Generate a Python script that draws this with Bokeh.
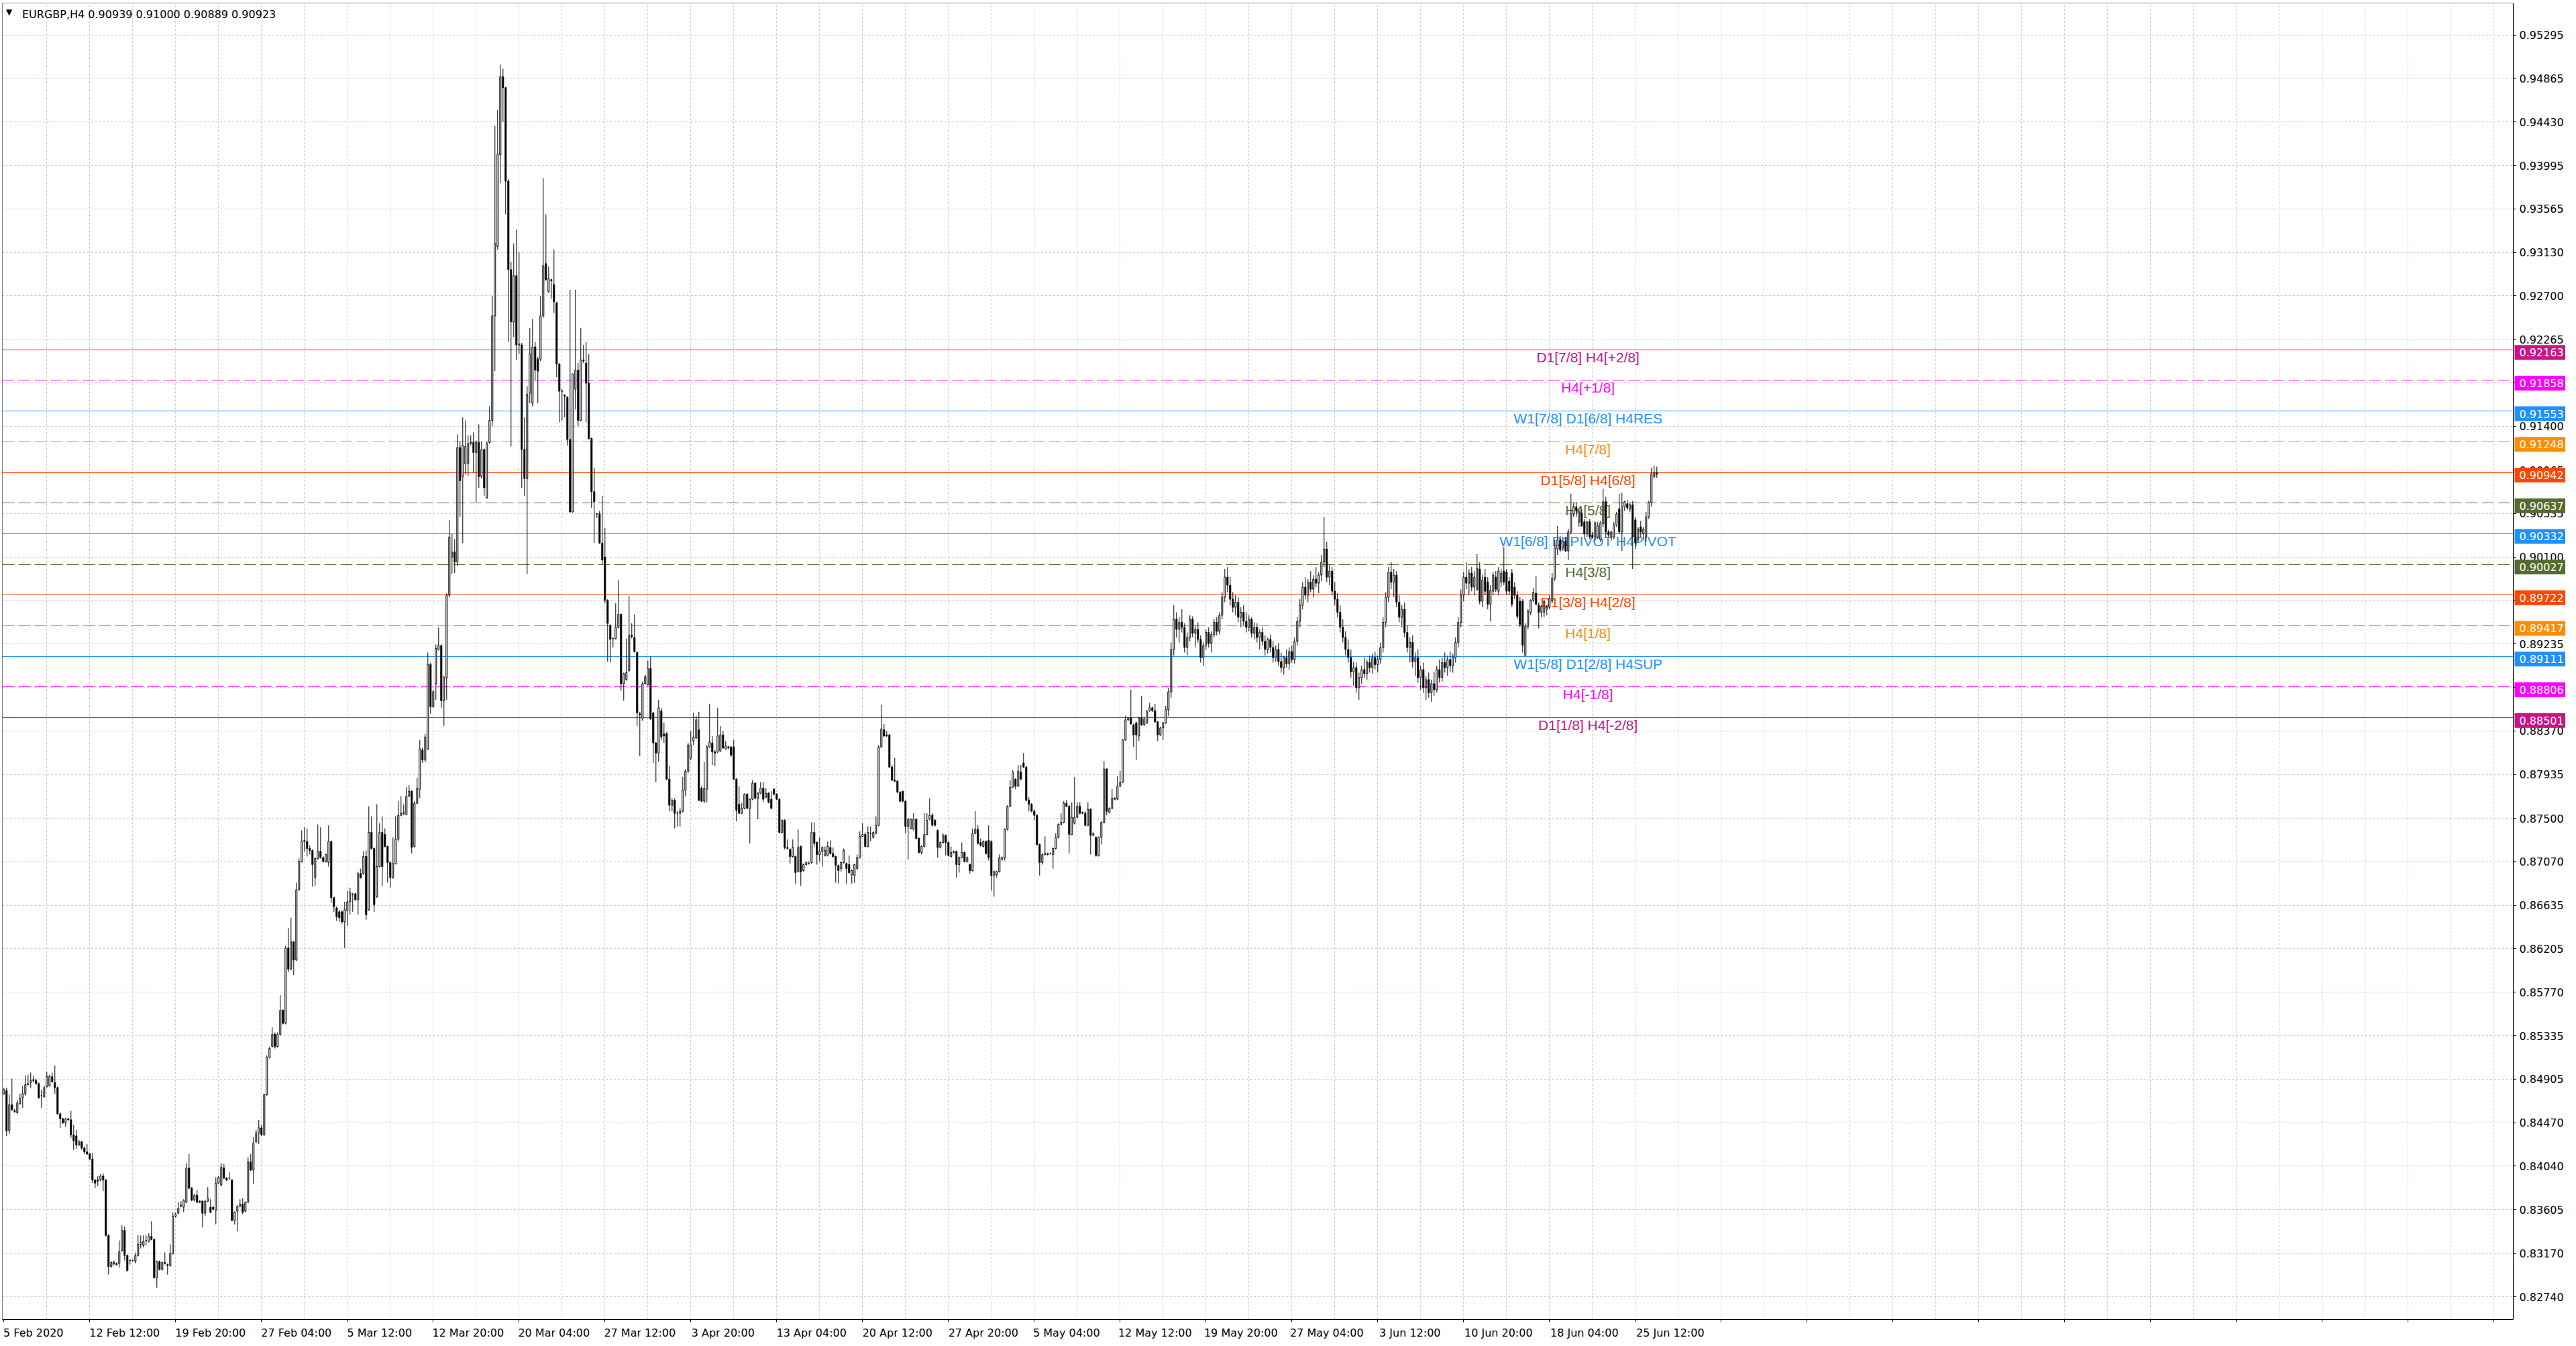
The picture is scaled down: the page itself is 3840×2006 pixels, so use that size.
from bokeh.plotting import figure
from bokeh.models import ColumnDataSource, FixedTicker, Range1d, Label, PrintfTickFormatter, LinearAxis
from bokeh.embed import file_html
from bokeh.resources import INLINE
from bokeh.core.properties import value

symbol = "EURGBP,H4"

opens = [
.8476,.8479,.8439,.8465,.8459,.8457,.8466,.8472,.8476,.8485,.8487,.8489,.8489,.8486,.8474,.8473,.8483,.8484,.8493,.8487,
.8482,.8456,.8451,.8447,.8451,.8450,.8435,.8434,.8425,.8428,.8422,.8418,.8416,.8411,.8390,.8390,.8390,.8394,.8390,.8335,
.8304,.8308,.8307,.8307,.8320,.8340,.8315,.8310,.8310,.8309,.8315,.8326,.8325,.8330,.8329,.8334,.8331,.8293,.8309,.8301,
.8308,.8306,.8305,.8317,.8354,.8357,.8364,.8363,.8368,.8402,.8382,.8370,.8375,.8368,.8369,.8357,.8369,.8363,.8363,.8360,
.8387,.8385,.8402,.8392,.8392,.8390,.8350,.8359,.8364,.8366,.8359,.8368,.8408,.8400,.8428,.8437,.8442,.8435,.8475,.8512,
.8523,.8535,.8523,.8535,.8559,.8546,.8621,.8600,.8627,.8609,.8679,.8707,.8727,.8727,.8720,.8718,.8691,.8710,.8717,.8711,
.8707,.8706,.8727,.8671,.8661,.8657,.8657,.8647,.8658,.8667,.8674,.8675,.8669,.8695,.8695,.8712,.8659,.8736,.8720,.8672,
.8702,.8736,.8734,.8722,.8706,.8691,.8705,.8729,.8753,.8755,.8754,.8772,.8777,.8722,.8765,.8779,.8818,.8808,.8819,.8903,
.8861,.8884,.8918,.8922,.8867,.8890,.8972,.9010,.9015,.9005,.9119,.9090,.9103,.9103,.9123,.9124,.9114,.9124,.9090,.9117,
.9069,.9124,.9146,.9250,.9319,.9410,.9488,.9477,.9384,.9296,.9244,.9290,.9221,.9221,.9117,.9088,.9173,.9163,.9219,.9207,
.9207,.9250,.9302,.9274,.9286,.9281,.9263,.9202,.9175,.9171,.9169,.9127,.9055,.9177,.9196,.9146,.9206,.9203,.9183,.9128,
.9075,.9053,.9053,.9024,.9010,.8967,.8942,.8929,.8929,.8940,.8953,.8884,.8888,.8897,.8932,.8930,.8915,.8854,.8849,.8884,
.8883,.8899,.8855,.8825,.8815,.8857,.8834,.8834,.8789,.8763,.8768,.8755,.8755,.8757,.8778,.8797,.8810,.8827,.8830,.8838,
.8780,.8767,.8779,.8821,.8825,.8816,.8816,.8817,.8833,.8819,.8821,.8821,.8821,.8789,.8764,.8755,.8760,.8774,.8760,.8769,
.8785,.8770,.8775,.8780,.8771,.8775,.8769,.8779,.8774,.8769,.8736,.8748,.8721,.8719,.8712,.8712,.8697,.8722,.8698,.8704,
.8705,.8706,.8736,.8726,.8714,.8717,.8713,.8713,.8721,.8715,.8712,.8703,.8700,.8706,.8705,.8704,.8694,.8693,.8700,.8711,
.8732,.8734,.8722,.8735,.8731,.8735,.8743,.8821,.8838,.8833,.8833,.8801,.8788,.8787,.8776,.8777,.8767,.8742,.8740,.8739,
.8749,.8730,.8716,.8722,.8734,.8749,.8753,.8748,.8738,.8721,.8726,.8733,.8726,.8712,.8716,.8717,.8704,.8711,.8716,.8707,
.8704,.8698,.8735,.8739,.8726,.8722,.8727,.8728,.8727,.8693,.8694,.8697,.8709,.8711,.8739,.8762,.8781,.8789,.8782,.8796,
.8805,.8801,.8768,.8764,.8757,.8753,.8724,.8706,.8714,.8714,.8715,.8714,.8720,.8731,.8744,.8746,.8765,.8762,.8734,.8745,
.8751,.8762,.8755,.8755,.8743,.8759,.8733,.8731,.8713,.8731,.8746,.8799,.8756,.8760,.8769,.8769,.8782,.8786,.8828,.8848,
.8850,.8843,.8845,.8832,.8850,.8843,.8845,.8857,.8860,.8857,.8846,.8833,.8840,.8845,
.8858,.8876,.8918,.8948,.8938,.8945,.8940,.8920,.8930,.8948,.8934,.8938,.8928,.8910,.8922,.8935,.8924,.8933,.8945,.8936,
.8952,.8970,.8990,.8982,.8968,.8960,.8965,.8950,.8955,.8946,.8940,.8948,.8934,.8940,.8930,.8935,.8926,.8918,.8928,.8920,
.8910,.8918,.8906,.8900,.8910,.8904,.8916,.8908,.8926,.8946,.8962,.8980,.8972,.8985,.8978,.8988,.8984,.8992,.9005,.9018,
.8990,.8996,.8976,.8968,.8955,.8940,.8930,.8918,.8910,.8896,.8900,.8880,.8890,.8898,.8894,.8905,.8900,.8910,.8903,.8908,
.8920,.8945,.8970,.8995,.8985,.8992,.8965,.8950,.8958,.8935,.8920,.8925,.8906,.8910,.8890,.8898,.8880,.8888,.8875,.8884,
.8878,.8898,.8890,.8905,.8900,.8908,.8902,.8910,.8925,.8945,.8972,.8990,.8984,.8994,.8980,.8978,.8998,.8966,.8990,.8985,
.8963,.8976,.8990,.8976,.8985,.8996,.8995,.8986,.8994,.8980,.8972,.8966,.8966,.8912,.8941,.8955,.8967,.8974,.8962,.8955,
.8955,.8958,.8960,.8966,.8989,.9018,.9027,.9019,.9026,.9016,.9035,.9053,.9060,.9045,.9053,.9045,.9033,.9045,.9032,.9030,
.9030,.9027,.9043,.9065,.9035,.9030,.9030,.9042,.9058,.9035,.9060,.9063,.9058,.9062,.9047,.9027,.9040,.9033,.9030,.9050,
.9064,.9090,.90939]

highs = [
.8482,.8482,.8475,.8491,.8461,.8470,.8476,.8484,.8494,.8495,.8497,.8494,.8491,.8487,.8480,.8484,.8498,.8495,.8497,.8504,
.8483,.8457,.8452,.8452,.8452,.8459,.8445,.8440,.8430,.8429,.8423,.8426,.8417,.8417,.8391,.8394,.8396,.8397,.8391,.8336,
.8309,.8310,.8308,.8330,.8345,.8344,.8316,.8311,.8311,.8318,.8335,.8335,.8335,.8335,.8337,.8349,.8332,.8310,.8310,.8309,
.8318,.8307,.8326,.8358,.8358,.8368,.8369,.8371,.8407,.8416,.8383,.8376,.8380,.8370,.8370,.8370,.8383,.8371,.8364,.8393,
.8394,.8407,.8406,.8393,.8398,.8391,.8359,.8365,.8371,.8372,.8369,.8413,.8416,.8433,.8440,.8450,.8445,.8476,.8514,.8523,
.8542,.8537,.8537,.8574,.8560,.8623,.8641,.8651,.8628,.8686,.8710,.8738,.8741,.8740,.8723,.8719,.8711,.8744,.8741,.8712,
.8715,.8743,.8728,.8672,.8662,.8659,.8658,.8667,.8678,.8681,.8676,.8676,.8697,.8700,.8717,.8718,.8762,.8752,.8721,.8764,
.8745,.8752,.8740,.8723,.8707,.8731,.8752,.8767,.8772,.8764,.8781,.8783,.8778,.8767,.8790,.8828,.8820,.8834,.8915,.8905,
.8878,.8923,.8940,.8923,.8892,.8974,.9047,.9033,.9028,.9132,.9125,.9149,.9146,.9131,.9131,.9134,.9126,.9142,.9125,.9118,
.9125,.9160,.9270,.9439,.9455,.9500,.9496,.9478,.9386,.9304,.9322,.9336,.9313,.9223,.9149,.9180,.9238,.9247,.9224,.9209,
.9270,.9387,.9351,.9299,.9287,.9316,.9264,.9203,.9177,.9172,.9170,.9276,.9193,.9276,.9203,.9238,.9221,.9224,.9212,.9129,
.9099,.9054,.9056,.9071,.9039,.8968,.8943,.8930,.8964,.8987,.8954,.8895,.8929,.8971,.8944,.8953,.8916,.8856,.8886,.8893,
.8907,.8911,.8856,.8826,.8868,.8860,.8845,.8836,.8802,.8770,.8770,.8757,.8760,.8791,.8799,.8825,.8837,.8855,.8852,.8856,
.8782,.8806,.8823,.8864,.8832,.8818,.8860,.8842,.8837,.8827,.8822,.8822,.8828,.8790,.8782,.8765,.8775,.8775,.8770,.8788,
.8786,.8776,.8786,.8786,.8780,.8776,.8777,.8780,.8775,.8770,.8749,.8749,.8729,.8720,.8729,.8713,.8739,.8723,.8705,.8707,
.8707,.8746,.8746,.8727,.8731,.8722,.8722,.8727,.8728,.8721,.8713,.8704,.8707,.8720,.8706,.8713,.8699,.8705,.8714,.8737,
.8745,.8736,.8742,.8742,.8737,.8752,.8823,.8863,.8844,.8837,.8834,.8803,.8810,.8788,.8777,.8777,.8768,.8750,.8750,.8755,
.8750,.8731,.8723,.8755,.8755,.8770,.8755,.8749,.8739,.8727,.8735,.8734,.8727,.8722,.8718,.8718,.8712,.8726,.8717,.8712,
.8705,.8740,.8757,.8743,.8730,.8728,.8728,.8743,.8728,.8698,.8698,.8714,.8712,.8740,.8763,.8788,.8798,.8790,.8803,.8803,
.8815,.8802,.8771,.8765,.8759,.8754,.8725,.8715,.8732,.8716,.8716,.8721,.8735,.8745,.8755,.8767,.8768,.8763,.8766,.8791,
.8766,.8766,.8757,.8757,.8766,.8760,.8736,.8732,.8732,.8747,.8807,.8800,.8761,.8779,.8771,.8792,.8797,.8829,.8852,.8851,
.8878,.8844,.8846,.8851,.8872,.8850,.8858,.8865,.8861,.8864,.8847,.8841,.8846,.8862,
.8880,.8925,.8962,.8955,.8950,.8958,.8944,.8935,.8952,.8951,.8942,.8945,.8932,.8925,.8938,.8940,.8936,.8948,.8950,.8955,
.8975,.8998,.9000,.8990,.8975,.8972,.8970,.8960,.8962,.8955,.8952,.8950,.8945,.8944,.8938,.8940,.8932,.8930,.8933,.8926,
.8922,.8924,.8915,.8912,.8918,.8920,.8922,.8930,.8950,.8968,.8985,.8990,.8988,.8996,.8992,.9000,.8995,.9012,.9050,.9025,
.9002,.9000,.8985,.8974,.8962,.8948,.8936,.8928,.8918,.8906,.8905,.8895,.8902,.8910,.8908,.8912,.8914,.8916,.8912,.8925,
.8950,.8975,.9000,.9005,.8998,.8996,.8972,.8962,.8965,.8942,.8930,.8932,.8915,.8918,.8902,.8905,.8892,.8895,.8888,.8896,
.8902,.8908,.8910,.8915,.8912,.8916,.8914,.8930,.8950,.8978,.8995,.9005,.8998,.9000,.8996,.9013,.9005,.8992,.8998,.8990,
.8982,.8995,.8996,.9000,.8998,.9020,.8998,.8990,.8998,.8985,.8976,.8970,.8968,.8944,.8958,.8968,.8979,.8991,.8965,.8962,
.8967,.8962,.8972,.8994,.9027,.9041,.9031,.9030,.9030,.9038,.9073,.9064,.9065,.9058,.9058,.9048,.9046,.9048,.9035,.9046,
.9045,.9046,.9078,.9070,.9037,.9036,.9045,.9055,.9073,.9074,.9066,.9067,.9064,.9066,.9050,.9040,.9046,.9040,.9055,.9066,
.9099,.9101,.91000]

lows = [
.8475,.8434,.8436,.8459,.8457,.8456,.8465,.8462,.8474,.8484,.8482,.8487,.8485,.8471,.8462,.8472,.8482,.8483,.8487,.8476,
.8455,.8442,.8446,.8443,.8449,.8432,.8420,.8421,.8424,.8420,.8416,.8415,.8410,.8387,.8382,.8384,.8389,.8379,.8334,.8296,
.8303,.8305,.8305,.8303,.8319,.8310,.8299,.8306,.8309,.8307,.8314,.8322,.8323,.8325,.8328,.8330,.8292,.8283,.8300,.8300,
.8306,.8296,.8304,.8316,.8353,.8356,.8363,.8358,.8367,.8381,.8369,.8369,.8367,.8367,.8343,.8354,.8368,.8357,.8360,.8346,
.8386,.8384,.8391,.8389,.8390,.8349,.8346,.8339,.8363,.8356,.8358,.8367,.8399,.8386,.8427,.8426,.8434,.8434,.8474,.8511,
.8522,.8521,.8522,.8534,.8545,.8545,.8597,.8599,.8594,.8608,.8678,.8706,.8717,.8712,.8714,.8682,.8683,.8709,.8710,.8706,
.8706,.8702,.8666,.8657,.8648,.8647,.8645,.8621,.8643,.8654,.8657,.8668,.8654,.8690,.8694,.8649,.8658,.8719,.8657,.8671,
.8701,.8683,.8721,.8686,.8681,.8690,.8704,.8727,.8752,.8753,.8753,.8771,.8715,.8721,.8764,.8770,.8805,.8806,.8818,.8854,
.8860,.8868,.8917,.8860,.8842,.8868,.8970,.8993,.8994,.9001,.9050,.9024,.9092,.9091,.9121,.9094,.9065,.9079,.9088,.9071,
.9068,.9123,.9140,.9195,.9316,.9382,.9443,.9351,.9224,.9120,.9229,.9206,.9212,.9079,.9071,.8993,.9163,.9160,.9186,.9163,
.9205,.9248,.9285,.9273,.9267,.9253,.9189,.9144,.9146,.9149,.9121,.9054,.9054,.9157,.9140,.9145,.9203,.9144,.9127,.9059,
.9024,.9049,.9023,.9003,.8964,.8906,.8905,.8920,.8928,.8939,.8877,.8867,.8887,.8896,.8929,.8915,.8842,.8812,.8847,.8883,
.8882,.8848,.8805,.8786,.8806,.8828,.8825,.8788,.8757,.8757,.8740,.8742,.8742,.8756,.8772,.8795,.8808,.8823,.8829,.8767,
.8766,.8765,.8766,.8820,.8803,.8802,.8815,.8816,.8819,.8818,.8819,.8811,.8788,.8747,.8754,.8754,.8759,.8759,.8725,.8768,
.8769,.8749,.8774,.8766,.8770,.8765,.8759,.8773,.8768,.8735,.8735,.8719,.8719,.8705,.8711,.8685,.8696,.8683,.8697,.8703,
.8704,.8705,.8722,.8704,.8707,.8702,.8712,.8712,.8714,.8711,.8686,.8685,.8697,.8705,.8685,.8695,.8685,.8686,.8699,.8710,
.8731,.8721,.8721,.8727,.8730,.8734,.8742,.8820,.8831,.8831,.8800,.8787,.8786,.8775,.8766,.8766,.8735,.8709,.8739,.8738,
.8729,.8715,.8714,.8721,.8733,.8748,.8742,.8742,.8711,.8720,.8725,.8713,.8712,.8711,.8715,.8691,.8696,.8710,.8706,.8706,
.8695,.8697,.8734,.8724,.8722,.8721,.8714,.8708,.8678,.8672,.8691,.8696,.8708,.8708,.8738,.8761,.8780,.8779,.8781,.8788,
.8800,.8767,.8757,.8756,.8748,.8723,.8693,.8704,.8713,.8713,.8714,.8700,.8719,.8730,.8743,.8745,.8761,.8715,.8733,.8744,
.8750,.8754,.8754,.8742,.8742,.8714,.8732,.8712,.8712,.8724,.8745,.8753,.8755,.8759,.8768,.8768,.8781,.8785,.8827,.8847,
.8843,.8821,.8808,.8827,.8842,.8842,.8844,.8856,.8856,.8845,.8827,.8832,.8828,.8844,
.8852,.8870,.8912,.8930,.8925,.8935,.8915,.8912,.8926,.8930,.8920,.8925,.8905,.8902,.8918,.8920,.8915,.8930,.8932,.8933,
.8948,.8965,.8975,.8962,.8955,.8952,.8945,.8940,.8942,.8935,.8936,.8930,.8928,.8925,.8918,.8922,.8912,.8914,.8915,.8905,
.8906,.8902,.8895,.8893,.8900,.8898,.8905,.8904,.8922,.8940,.8958,.8968,.8965,.8975,.8970,.8980,.8974,.8986,.9000,.8985,
.8982,.8972,.8962,.8950,.8935,.8925,.8912,.8905,.8890,.8882,.8875,.8868,.8884,.8890,.8888,.8895,.8894,.8898,.8895,.8904,
.8915,.8940,.8965,.8978,.8970,.8960,.8945,.8940,.8930,.8915,.8905,.8900,.8892,.8885,.8878,.8875,.8868,.8870,.8866,.8872,
.8875,.8885,.8886,.8895,.8892,.8896,.8895,.8905,.8920,.8940,.8966,.8978,.8972,.8976,.8972,.8976,.8963,.8960,.8972,.8958,
.8946,.8972,.8975,.8972,.8980,.8982,.8972,.8972,.8960,.8968,.8948,.8940,.8915,.8912,.8938,.8952,.8965,.8962,.8939,.8950,
.8950,.8952,.8958,.8964,.8986,.9012,.9015,.9016,.9015,.9007,.9033,.9050,.9050,.9040,.9040,.9030,.9030,.9028,.9028,.9026,
.9028,.9025,.9040,.9030,.9030,.9026,.9028,.9040,.9033,.9016,.9056,.9057,.9055,.8998,.9018,.9024,.9030,.9027,.9025,.9048,
.9060,.9088,.90889]

closes = [
.8480,.8439,.8465,.8460,.8458,.8467,.8471,.8476,.8485,.8486,.8489,.8490,.8486,.8472,.8474,.8482,.8493,.8493,.8488,.8482,
.8456,.8451,.8447,.8451,.8450,.8435,.8429,.8425,.8428,.8422,.8418,.8416,.8411,.8390,.8387,.8389,.8394,.8390,.8335,.8304,
.8308,.8307,.8306,.8319,.8340,.8315,.8300,.8310,.8310,.8315,.8326,.8328,.8329,.8330,.8334,.8331,.8293,.8309,.8301,.8308,
.8307,.8305,.8317,.8354,.8356,.8362,.8365,.8370,.8402,.8382,.8370,.8375,.8368,.8369,.8357,.8369,.8372,.8358,.8361,.8387,
.8393,.8403,.8392,.8390,.8392,.8350,.8358,.8364,.8366,.8358,.8368,.8408,.8400,.8427,.8437,.8442,.8435,.8475,.8512,.8521,
.8535,.8523,.8535,.8559,.8546,.8621,.8600,.8627,.8609,.8679,.8707,.8727,.8728,.8720,.8718,.8704,.8710,.8717,.8711,.8707,
.8714,.8727,.8671,.8662,.8652,.8651,.8647,.8659,.8667,.8676,.8674,.8669,.8695,.8691,.8712,.8654,.8736,.8720,.8664,.8702,
.8736,.8702,.8722,.8706,.8691,.8705,.8729,.8753,.8755,.8756,.8772,.8777,.8721,.8765,.8780,.8819,.8808,.8831,.8903,.8861,
.8876,.8919,.8922,.8867,.8890,.8972,.9030,.9015,.9005,.9119,.9086,.9121,.9120,.9123,.9124,.9114,.9124,.9090,.9117,.9079,
.9123,.9146,.9250,.9322,.9411,.9488,.9477,.9384,.9296,.9244,.9290,.9221,.9222,.9117,.9088,.9172,.9212,.9219,.9196,.9195,
.9250,.9300,.9286,.9287,.9285,.9264,.9202,.9175,.9175,.9170,.9127,.9055,.9192,.9196,.9146,.9206,.9205,.9183,.9128,.9075,
.9065,.9053,.9024,.9007,.8967,.8944,.8928,.8929,.8940,.8953,.8884,.8894,.8895,.8932,.8931,.8916,.8855,.8853,.8884,.8891,
.8899,.8849,.8825,.8815,.8860,.8831,.8832,.8789,.8763,.8768,.8755,.8755,.8757,.8778,.8797,.8823,.8823,.8831,.8848,.8768,
.8767,.8780,.8821,.8826,.8816,.8815,.8832,.8833,.8820,.8822,.8820,.8813,.8789,.8758,.8755,.8760,.8774,.8760,.8769,.8785,
.8770,.8775,.8780,.8769,.8775,.8766,.8760,.8774,.8769,.8736,.8748,.8721,.8720,.8712,.8721,.8696,.8721,.8697,.8704,.8706,
.8705,.8736,.8725,.8714,.8717,.8721,.8718,.8722,.8715,.8712,.8703,.8698,.8706,.8718,.8700,.8696,.8698,.8704,.8711,.8732,
.8734,.8722,.8736,.8735,.8736,.8743,.8821,.8839,.8832,.8832,.8801,.8788,.8787,.8776,.8767,.8767,.8742,.8749,.8749,.8749,
.8730,.8716,.8722,.8734,.8748,.8753,.8743,.8743,.8721,.8726,.8733,.8726,.8713,.8716,.8717,.8704,.8711,.8716,.8707,.8711,
.8698,.8735,.8739,.8725,.8723,.8727,.8715,.8711,.8693,.8697,.8697,.8711,.8711,.8739,.8762,.8781,.8796,.8782,.8797,.8789,
.8801,.8768,.8764,.8757,.8753,.8724,.8706,.8714,.8715,.8715,.8715,.8720,.8731,.8744,.8746,.8765,.8762,.8734,.8751,.8751,
.8762,.8755,.8756,.8743,.8759,.8733,.8735,.8713,.8731,.8746,.8799,.8757,.8760,.8770,.8770,.8782,.8786,.8828,.8848,.8850,
.8844,.8833,.8833,.8850,.8843,.8849,.8856,.8860,.8857,.8846,.8833,.8840,.8845,.8858,
.8876,.8918,.8948,.8938,.8945,.8940,.8920,.8930,.8948,.8934,.8938,.8928,.8910,.8922,.8935,.8924,.8933,.8945,.8936,.8952,
.8970,.8990,.8982,.8968,.8960,.8965,.8950,.8955,.8946,.8940,.8948,.8934,.8940,.8930,.8935,.8926,.8918,.8928,.8920,.8910,
.8918,.8906,.8900,.8910,.8904,.8916,.8908,.8926,.8946,.8962,.8980,.8972,.8985,.8978,.8988,.8984,.8992,.9005,.9018,.8990,
.8996,.8976,.8968,.8955,.8940,.8930,.8918,.8910,.8896,.8900,.8880,.8890,.8898,.8894,.8905,.8900,.8910,.8903,.8908,.8920,
.8945,.8970,.8995,.8985,.8992,.8965,.8950,.8958,.8935,.8920,.8925,.8906,.8910,.8890,.8898,.8880,.8888,.8875,.8884,.8878,
.8898,.8890,.8905,.8900,.8908,.8902,.8910,.8925,.8945,.8972,.8990,.8984,.8994,.8980,.8990,.8999,.8966,.8987,.8976,.8963,
.8977,.8992,.8978,.8996,.8994,.8985,.8976,.8976,.8963,.8972,.8951,.8943,.8922,.8941,.8956,.8967,.8975,.8963,.8955,.8961,
.8966,.8960,.8969,.8989,.9019,.9027,.9017,.9026,.9016,.9035,.9053,.9060,.9056,.9055,.9041,.9033,.9045,.9030,.9030,.9044,
.9041,.9044,.9065,.9035,.9032,.9035,.9042,.9053,.9035,.9060,.9065,.9059,.9062,.9030,.9024,.9038,.9035,.9038,.9050,.9064,
.9093,.9094,.90923]

date_labels = ["5 Feb 2020", "12 Feb 12:00", "19 Feb 20:00", "27 Feb 04:00", "5 Mar 12:00",
               "12 Mar 20:00", "20 Mar 04:00", "27 Mar 12:00", "3 Apr 20:00", "13 Apr 04:00",
               "20 Apr 12:00", "27 Apr 20:00", "5 May 04:00", "12 May 12:00", "19 May 20:00",
               "27 May 04:00", "3 Jun 12:00", "10 Jun 20:00", "18 Jun 04:00", "25 Jun 12:00"]
bars_per_label = 32

price_ticks = [0.95295, 0.94865, 0.94430, 0.93995, 0.93565, 0.93130, 0.92700, 0.92265, 0.91835,
               0.91400, 0.90965, 0.90535, 0.90100, 0.89670, 0.89235, 0.88800, 0.88370, 0.87935,
               0.87500, 0.87070, 0.86635, 0.86205, 0.85770, 0.85335, 0.84905, 0.84470, 0.84040,
               0.83605, 0.83170, 0.82740]

level_prices = [0.92163, 0.91858, 0.91553, 0.91248, 0.90942, 0.90637, 0.90332,
                0.90027, 0.89722, 0.89417, 0.89111, 0.88806, 0.88501]
level_names = ["D1[7/8] H4[+2/8]", "H4[+1/8]", "W1[7/8] D1[6/8] H4RES", "H4[7/8]",
               "D1[5/8] H4[6/8]", "H4[5/8]", "W1[6/8] D1PIVOT H4PIVOT", "H4[3/8]",
               "D1[3/8] H4[2/8]", "H4[1/8]", "W1[5/8] D1[2/8] H4SUP", "H4[-1/8]", "D1[1/8] H4[-2/8]"]
level_colors = ["#C71585", "#FF00FF", "#1E90FF", "#FF8C00", "#FF4500", "#556B2F", "#1E90FF",
                "#556B2F", "#FF4500", "#FF8C00", "#1E90FF", "#FF00FF", "#C71585"]
level_dashed = [False, True, False, True, False, True, False, True, False, True, False, True, False]

n = len(opens)
assert len(highs) == n and len(lows) == n and len(closes) == n

GRID = "#c8c8c8"
AXIS_FONT = "DejaVu Sans"

# geometry: 4 px per bar, frame from x=3 to the right edge, price scale at x=3746
X0 = -0.575
X1 = X0 + 3821 / 4
AXIS_X = X0 + 3743 / 4
Y0, Y1 = 0.82513, 0.95613
FRAME_H = 1967
PX = (Y1 - Y0) / FRAME_H   # price per pixel

p = figure(width=3824, height=1998, x_range=Range1d(X0, X1), y_range=Range1d(Y0, Y1),
           output_backend="svg", toolbar_location=None, y_axis_location=None,
           min_border_left=3, min_border_top=4, min_border_right=0, min_border_bottom=27,
           background_fill_color="white", border_fill_color="white", outline_line_color=None)

# x axis
tick_pos = list(range(0, 929, bars_per_label))
label_centers = [i * bars_per_label + round(len(t) * 8.9 / 8) for i, t in enumerate(date_labels)]
p.xaxis.ticker = FixedTicker(ticks=label_centers, minor_ticks=tick_pos)
p.xaxis.major_label_overrides = {c: t for c, t in zip(label_centers, date_labels)}
p.xaxis.bounds = (X0, AXIS_X)
p.xaxis.major_tick_out = 0
p.xaxis.major_tick_in = 0
p.xaxis.minor_tick_out = 4
p.xaxis.minor_tick_in = 0
p.xaxis.minor_tick_line_color = "black"
p.xaxis.axis_line_color = "black"
p.xaxis.major_label_standoff = 6
p.xaxis.major_label_text_font = AXIS_FONT
p.xaxis.major_label_text_font_size = "16px"
p.xaxis.major_label_text_color = "black"

# price scale, drawn at a fixed place inside the canvas
yaxis = LinearAxis(fixed_location=AXIS_X, ticker=FixedTicker(ticks=price_ticks),
                   formatter=PrintfTickFormatter(format="%.5f"),
                   major_tick_out=4, major_tick_in=0, minor_tick_out=0, minor_tick_in=0,
                   axis_line_color="black", major_label_standoff=5,
                   major_label_text_font=AXIS_FONT, major_label_text_font_size="16px",
                   major_label_text_color="black")
p.add_layout(yaxis, "right")

# frame top and left edges
top_axis = LinearAxis(fixed_location=Y1, ticker=FixedTicker(ticks=[]), bounds=(X0, AXIS_X),
                      major_tick_out=0, minor_tick_out=0, major_tick_in=0, minor_tick_in=0,
                      axis_line_color="black")
p.add_layout(top_axis, "above")
left_axis = LinearAxis(fixed_location=X0, ticker=FixedTicker(ticks=[]),
                       major_tick_out=0, minor_tick_out=0, major_tick_in=0, minor_tick_in=0,
                       axis_line_color="black")
p.add_layout(left_axis, "left")

p.xgrid.ticker = FixedTicker(ticks=list(range(16, 929, 16)))
p.ygrid.ticker = FixedTicker(ticks=price_ticks)
for g in (p.xgrid, p.ygrid):
    g.grid_line_color = GRID
    g.grid_line_dash = "3 3"
    g.grid_line_width = 1

# level lines
solid = ColumnDataSource(dict(y=[v for v, d in zip(level_prices, level_dashed) if not d],
                              c=[c for c, d in zip(level_colors, level_dashed) if not d]))
dashed = ColumnDataSource(dict(y=[v for v, d in zip(level_prices, level_dashed) if d],
                               c=[c for c, d in zip(level_colors, level_dashed) if d]))
p.hspan(y="y", line_color="c", line_width=1, source=solid)
p.hspan(y="y", line_color="c", line_width=1, line_dash="18 6", source=dashed)

lvl = ColumnDataSource(dict(y=level_prices, name=level_names, c=level_colors,
                            tag=[f"{v:.5f}" for v in level_prices],
                            tag_y=[v - 4 * PX for v in level_prices]))
p.text(x=590.35, y="y", text="name", source=lvl, text_color="c", text_align="center",
       text_baseline="alphabetic", y_offset=11, text_font=value("Liberation Sans"),
       text_font_size="21px")

# candles
idx = list(range(n))
up = [i for i in idx if closes[i] >= opens[i]]
dn = [i for i in idx if closes[i] < opens[i]]
wick = ColumnDataSource(dict(x=idx, lo=lows, hi=highs))
p.segment(x0="x", y0="lo", x1="x", y1="hi", source=wick, line_color="black", line_width=1)
up_src = ColumnDataSource(dict(x=up, top=[closes[i] for i in up], bottom=[opens[i] for i in up]))
dn_src = ColumnDataSource(dict(x=dn, top=[opens[i] for i in dn], bottom=[closes[i] for i in dn]))
p.vbar(x="x", width=0.5, top="top", bottom="bottom", source=up_src,
       fill_color="white", line_color="black", line_width=1)
p.vbar(x="x", width=0.5, top="top", bottom="bottom", source=dn_src,
       fill_color="black", line_color="black", line_width=1)

# blank the price-scale strip (grid and level lines stop at the scale)
p.quad(left=AXIS_X, right=X1, bottom=Y0, top=Y1, fill_color="white", line_color=None)

# price tags over the scale
p.rect(x=945.675, y="tag_y", width=80, height=22, width_units="screen", height_units="screen",
       source=lvl, fill_color="c", line_color=None, level="overlay")
p.text(x=937.425, y="tag_y", text="tag", source=lvl, text_color="white", text_align="left",
       text_baseline="middle", text_font=value(AXIS_FONT), text_font_size="16px", level="overlay")

# header
p.add_layout(Label(x=0.8, y=0.95526, text="\u25bc", text_font=AXIS_FONT, text_font_size="12px",
                   text_color="black", text_baseline="alphabetic"))
header = symbol + " " + " ".join(f"{v:.5f}" for v in (opens[-1], highs[-1], lows[-1], closes[-1]))
p.add_layout(Label(x=6.8, y=0.95499, text=header, text_font=AXIS_FONT, text_font_size="16px",
                   text_color="black", text_baseline="alphabetic"))

open("out.html", "w").write(file_html(p, INLINE))
